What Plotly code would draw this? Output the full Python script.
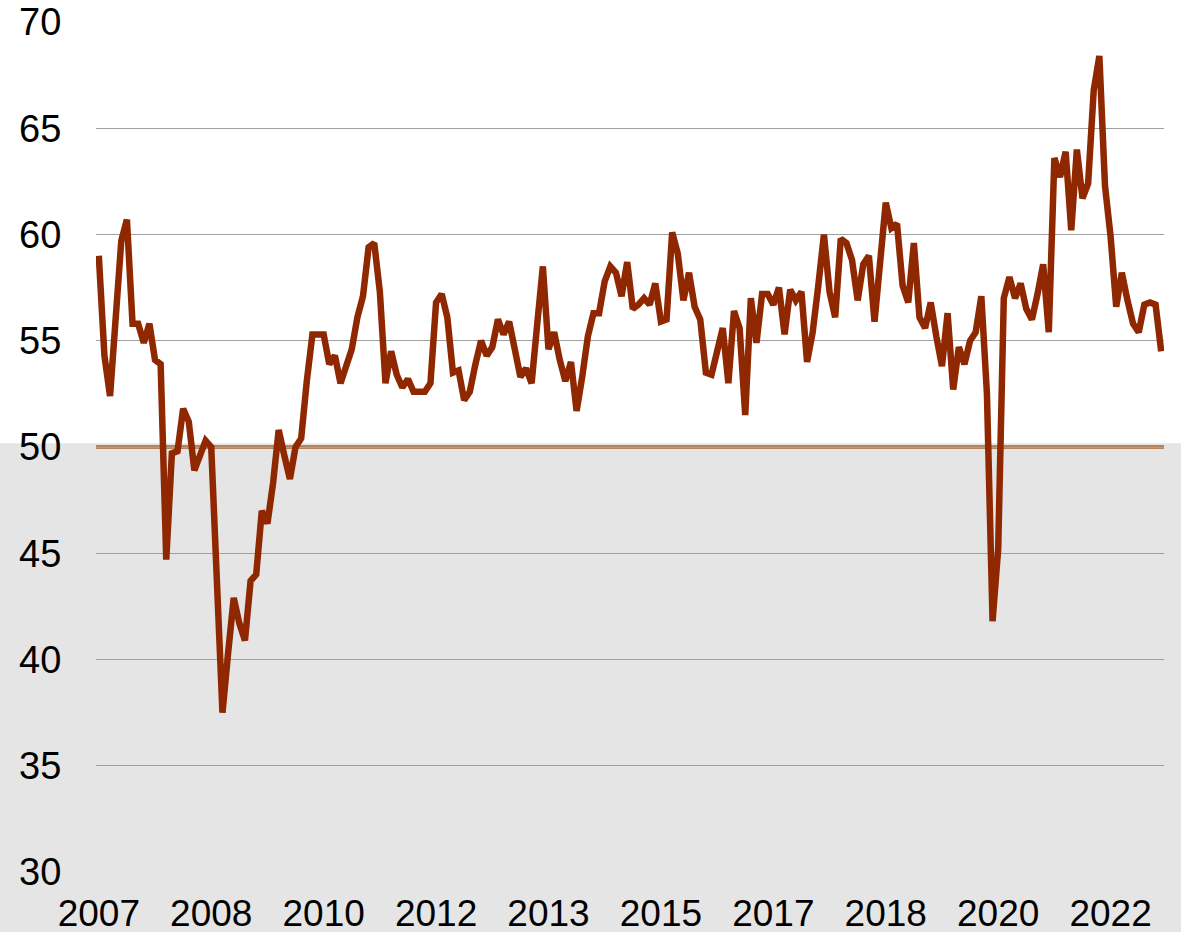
import plotly.graph_objects as go

# Monthly index values, Jan 2007 - Oct 2022
values = [
    59.0, 54.3, 52.4, 56.0, 59.7, 60.7, 55.8, 55.8, 54.9, 55.8, 54.1, 53.9,   # 2007
    44.7, 49.7, 49.8, 51.8, 51.2, 48.9, 49.6, 50.3, 50.0, 44.2, 37.5, 40.3,   # 2008
    42.9, 41.7, 40.9, 43.7, 44.0, 47.0, 46.4, 48.3, 50.8, 49.6, 48.5, 50.0,   # 2009
    50.4, 53.1, 55.3, 55.3, 55.3, 53.9, 54.3, 53.0, 53.9, 54.6, 56.1, 57.1,   # 2010
    59.4, 59.6, 57.3, 53.0, 54.5, 53.4, 52.8, 53.2, 52.6, 52.6, 52.6, 53.0,   # 2011
    56.8, 57.2, 56.1, 53.5, 53.6, 52.2, 52.6, 53.9, 55.0, 54.3, 54.7, 56.0,   # 2012
    55.3, 55.9, 54.6, 53.3, 53.7, 53.0, 55.8, 58.5, 54.6, 55.4, 54.1, 53.1,   # 2013
    54.0, 51.7, 53.3, 55.2, 56.3, 56.3, 57.8, 58.5, 58.2, 57.1, 58.7, 56.5,   # 2014
    56.7, 57.0, 56.7, 57.7, 55.9, 56.0, 60.1, 59.1, 56.9, 58.2, 56.6, 56.0,   # 2015
    53.5, 53.4, 54.5, 55.6, 53.0, 56.4, 55.6, 51.5, 57.0, 54.9, 57.2, 57.2,   # 2016
    56.7, 57.5, 55.3, 57.4, 56.9, 57.3, 54.0, 55.4, 57.6, 60.0, 57.3, 56.1,   # 2017
    59.8, 59.6, 58.8, 56.9, 58.6, 59.0, 55.9, 58.5, 61.5, 60.3, 60.5, 57.6,   # 2018
    56.8, 59.6, 56.1, 55.6, 56.8, 55.2, 53.8, 56.3, 52.7, 54.7, 53.9, 55.0,   # 2019
    55.4, 57.1, 52.5, 41.8, 45.2, 57.0, 58.0, 57.0, 57.7, 56.5, 56.0, 57.2,   # 2020
    58.6, 55.4, 63.6, 62.7, 63.9, 60.2, 64.0, 61.7, 62.4, 66.8, 68.4, 62.3,   # 2021
    59.9, 56.6, 58.2, 56.9, 55.8, 55.4, 56.7, 56.8, 56.7, 54.5,               # 2022
]

# Category labels (one per month)
months = [f"{2007 + i // 12}-{i % 12 + 1:02d}" for i in range(len(values))]

# Tick labels shown on the category axis (every 20th month)
tick_step = 20
tick_months = months[::tick_step]
tick_labels = ["2007", "2008", "2010", "2012", "2013", "2015", "2017", "2018", "2020", "2022"]

threshold = 50
y_ticks = [30, 35, 40, 45, 50, 55, 60, 65, 70]

FONT = "Liberation Sans, Arial, sans-serif"

fig = go.Figure()
fig.add_trace(go.Scatter(
    x=months, y=values, mode="lines",
    line=dict(color="#8F2700", width=6.5),
    hoverinfo="skip", showlegend=False,
))

# grey contraction band below 50 (extends across the whole image)
fig.add_shape(type="rect", xref="paper", yref="paper",
              x0=-0.5, x1=1.5, y0=0.5045, y1=-0.5,
              fillcolor="#E5E5E5", line=dict(width=0), layer="below")
# 50 threshold line
fig.add_shape(type="line", xref="paper", yref="y",
              x0=0, x1=1, y0=threshold, y1=threshold,
              line=dict(color="#B5845A", width=4), layer="between")

fig.update_layout(
    width=1181, height=932,
    margin=dict(l=96, r=17, t=22, b=60, autoexpand=False),
    paper_bgcolor="white", plot_bgcolor="rgba(0,0,0,0)",
    font=dict(family=FONT, size=38, color="black"),
    showlegend=False,
)
fig.update_xaxes(
    type="category", range=[-0.5, len(values) - 0.5], automargin=False,
    tickmode="array", tickvals=tick_months, ticktext=tick_labels,
    showgrid=False, zeroline=False, showline=False,
    ticks="outside", ticklen=9, tickcolor="rgba(0,0,0,0)",
    tickfont=dict(family=FONT, size=37, color="black"),
)
fig.update_yaxes(
    range=[30, 70], tickmode="array", tickvals=y_ticks, automargin=False,
    showgrid=True, gridcolor="#A0A0A0", gridwidth=1.3,
    zeroline=False, showline=False,
    ticks="outside", ticklen=26, tickcolor="rgba(0,0,0,0)",
    tickfont=dict(family=FONT, size=38, color="black"),
)

fig.write_html(
    "out.html",
    config={"displayModeBar": False},
    post_script="document.body.style.margin='0';document.body.style.overflow='hidden';",
)
